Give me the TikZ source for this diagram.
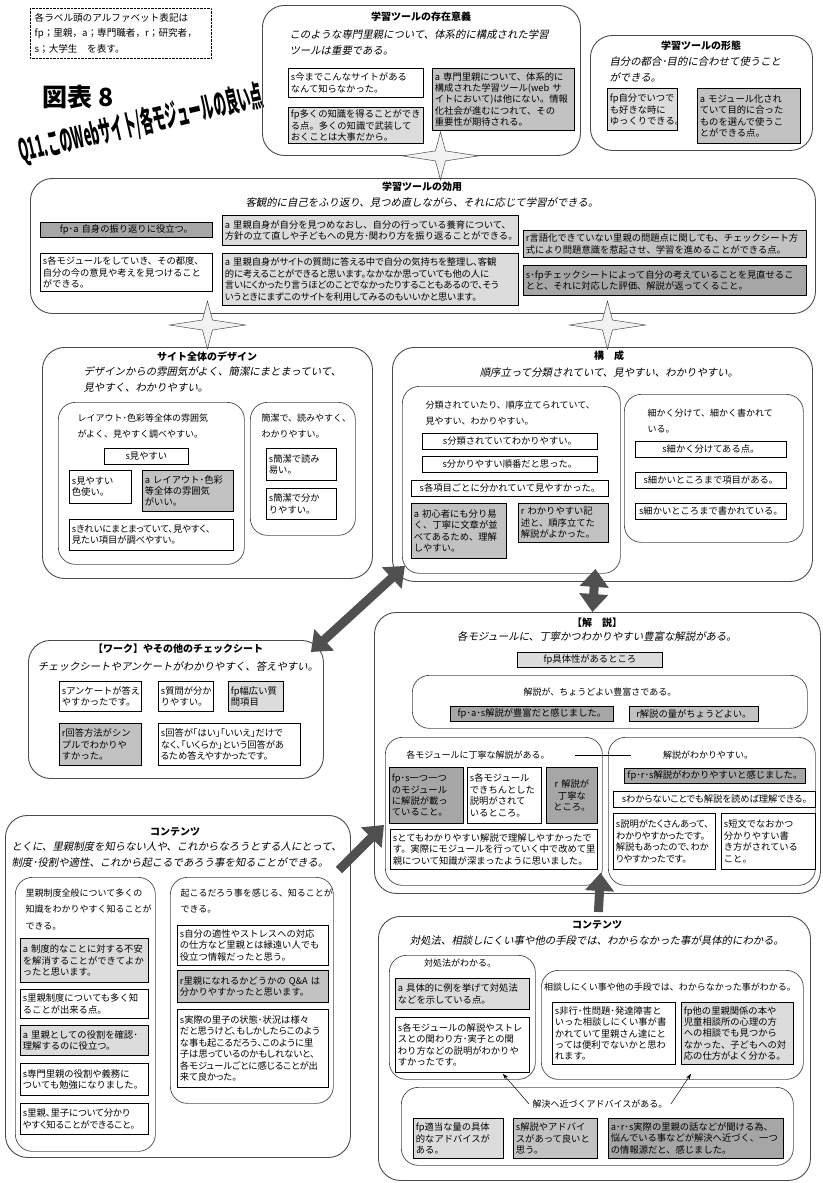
\documentclass[tikz,border=0pt]{standalone}
\usepackage{fontspec}
\setmainfont{Noto Sans CJK JP}
\newfontfamily\pfont{Noto Sans CJK JP}[RawFeature=+palt]
\newfontfamily\leadfont{Noto Sans CJK JP}[FakeSlant=0.2]
\newfontfamily\narrowfont{Noto Sans CJK JP}[FakeStretch=0.42]
\usepackage{tikz}
\usetikzlibrary{positioning, arrows.meta, calc}

\definecolor{lightfill}{HTML}{DCDCDC}
\definecolor{midfill}{HTML}{C2C2C2}
\definecolor{darkfill}{HTML}{A6A6A6}
\definecolor{framegray}{HTML}{4A4A4A}
\definecolor{arrowgray}{HTML}{505050}
\definecolor{starfill}{HTML}{F2F2F2}

\newcommand{\boxfont}{\fontsize{9.3}{11.4}\selectfont}
\newcommand{\linkstar}[1]{\filldraw[starlink] (#1) ++(0,-24) -- ++(5,19) -- ++(33,5) -- ++(-33,5) -- ++(-5,19) -- ++(-5,-19) -- ++(-33,-5) -- ++(33,-5) -- cycle;}

\tikzstyle{wbox} = [draw, fill=white, line width=0.8pt, anchor=north west, align=left, inner sep=2.5pt, font=\boxfont]
\tikzstyle{lbox} = [wbox, fill=lightfill]
\tikzstyle{mbox} = [wbox, fill=midfill]
\tikzstyle{dbox} = [wbox, fill=darkfill]
\tikzstyle{prop} = [font=\pfont\boxfont]
\tikzstyle{group} = [draw=framegray, line width=0.9pt, rounded corners=22pt, anchor=north west]
\tikzstyle{subgroup} = [group, rounded corners=17pt, line width=0.7pt]
\tikzstyle{head} = [font=\bfseries\fontsize{10}{12}\selectfont]
\tikzstyle{lead} = [font=\leadfont\fontsize{10.4}{16}\selectfont, align=left]
\tikzstyle{note} = [font=\fontsize{9}{16.5}\selectfont, align=left]
\tikzstyle{legendbox} = [draw, densely dotted, anchor=north west, minimum width=181pt, minimum height=50pt, text width=172pt, align=left, font=\fontsize{9.6}{15.5}\selectfont]
\tikzstyle{fat} = [draw=arrowgray, line width=9pt, -{Triangle[length=18pt,width=28pt]}]
\tikzstyle{fatboth} = [draw=arrowgray, line width=9pt, {Triangle[length=18pt,width=28pt]}-{Triangle[length=18pt,width=28pt]}]
\tikzstyle{pointer} = [line width=0.5pt, -{Stealth[length=6pt,width=4pt]}]
\tikzstyle{starlink} = [draw=framegray, fill=starfill, line width=0.5pt]

\begin{document}
\begin{tikzpicture}[x=1pt, y=-1pt]
\useasboundingbox (0,0) rectangle (822,1183);
\fill[white] (0,0) rectangle (822,1183);

% Legend and title
\node[legendbox] (legend) at (30,8) {各ラベル頭のアルファベット表記は\\fp；里親，a；専門職者，r；研究者，\\s；大学生\quad を表す。};
\node[font=\bfseries\fontsize{25}{25}\selectfont] (fignum) at (78,97) {図表 8};
\node[rotate=13, font=\narrowfont\bfseries\fontsize{30}{30}\selectfont] (question) at (141,124) {Q11.このWebサイト/各モジュールの良い点};

% Groups
\node[group, minimum width=318pt, minimum height=150pt] (exist) at (262,5) {};
\node[group, minimum width=222pt, minimum height=115pt] (form) at (590,35) {};
\node[group, minimum width=785pt, minimum height=135pt] (effect) at (30,178) {};
\node[group, minimum width=330pt, minimum height=231pt] (design) at (42,347) {};
\node[subgroup, minimum width=186pt, minimum height=162pt] (dL) at (58,402) {};
\node[subgroup, minimum width=105pt, minimum height=133pt] (dR) at (250,402) {};
\node[group, minimum width=420pt, minimum height=234pt] (kosei) at (392,347) {};
\node[subgroup, minimum width=218pt, minimum height=187pt] (kL) at (402,386) {};
\node[subgroup, minimum width=179pt, minimum height=148pt] (kR) at (624,394) {};
\node[group, minimum width=295pt, minimum height=138pt] (work) at (28,640) {};
\node[group, minimum width=446pt, minimum height=281pt] (kaisetsu) at (374,612) {};
\node[subgroup, minimum width=395pt, minimum height=53pt] (xA) at (412,675) {};
\node[subgroup, minimum width=217pt, minimum height=148pt] (xL) at (385,737) {};
\node[subgroup, minimum width=207pt, minimum height=148pt] (xR) at (608,737) {};
\node[group, minimum width=345pt, minimum height=342pt] (contL) at (5,815) {};
\node[subgroup, minimum width=140pt, minimum height=274pt] (cA) at (15,877) {};
\node[subgroup, minimum width=163pt, minimum height=226pt] (cB) at (170,877) {};
\node[group, minimum width=432pt, minimum height=264pt] (contR) at (378,916) {};
\node[subgroup, minimum width=146pt, minimum height=124pt] (dA) at (389,955) {};
\node[subgroup, minimum width=262pt, minimum height=109pt] (dB) at (541,970) {};
\node[subgroup, minimum width=392pt, minimum height=78pt] (dC) at (401,1087) {};

% Headings
\node[head] (existT) at (421,17) {学習ツールの存在意義};
\node[lead, anchor=north west] (existL) at (286,26) {このような専門里親について、体系的に構成された学習\\ツールは重要である。};
\node[head] (formT) at (701,46) {学習ツールの形態};
\node[lead, anchor=north west] (formL) at (606,53) {自分の都合･目的に合わせて使うこと\\ができる。};
\node[head] (effectT) at (422,187) {学習ツールの効用};
\node[lead] (effectL) at (422,203) {客観的に自己をふり返り、見つめ直しながら、それに応じて学習ができる。};
\node[head] (designT) at (207,357) {サイト全体のデザイン};
\node[lead, anchor=north west] (designL) at (80,363) {デザインからの雰囲気がよく、簡潔にまとまっていて、\\見やすく、わかりやすい。};
\node[head] (koseiT) at (609,356) {構\quad 成};
\node[lead] (koseiL) at (609,373) {順序立って分類されていて、見やすい、わかりやすい。};
\node[head] (workT) at (178,649) {【ワーク】やその他のチェックシート};
\node[lead] (workL) at (178,666) {チェックシートやアンケートがわかりやすく、答えやすい。};
\node[head] (kaisetsuT) at (597,623) {【解\quad 説】};
\node[lead] (kaisetsuL) at (597,637) {各モジュールに、丁寧かつわかりやすい豊富な解説がある。};
\node[head] (contLT) at (175,832) {コンテンツ};
\node[lead, anchor=north west] (contLL) at (8,838) {とくに、里親制度を知らない人や、これからなろうとする人にとって、\\制度･役割や適性、これから起こるであろう事を知ることができる。};
\node[head] (contRT) at (597,925) {コンテンツ};
\node[lead] (contRL) at (597,941) {対処法、相談しにくい事や他の手段では、わからなかった事が具体的にわかる。};

% Sub headings
\node[note, anchor=north west] (dLt) at (74,410) {レイアウト･色彩等全体の雰囲気\\がよく、見やすく調べやすい。};
\node[note, anchor=north west] (dRt) at (258,410) {簡潔で、読みやすく、\\わかりやすい。};
\node[note, anchor=north west] (kLt) at (422,397) {分類されていたり、順序立てられていて、\\見やすい、わかりやすい。};
\node[note, anchor=north west] (kRt) at (644,405) {細かく分けて、細かく書かれて\\いる。};
\node[note] (xAt) at (600,692) {解説が、ちょうどよい豊富さである。};
\node[note] (xLh) at (478,755) {各モジュールに丁寧な解説がある。};
\node[note] (xRh) at (708,755) {解説がわかりやすい。};
\node[note, anchor=north west] (cAt) at (22,885) {里親制度全般について多くの\\知識をわかりやすく知ることが\\できる。};
\node[note, anchor=north west] (cBt) at (177,885) {起こるだろう事を感じる、知ることが\\できる。};
\node[note] (dAh) at (460,963) {対処法がわかる。};
\node[note] (dBh) at (670,987) {相談しにくい事や他の手段では、わからなかった事がわかる。};
\node[note] (dCh) at (600,1104) {解決へ近づくアドバイスがある。};

% Boxes: existence
\node[wbox, text width=130pt, minimum height=29pt] (e1) at (288,68) {s今までこんなサイトがある\\なんて知らなかった。};
\node[lbox, text width=130pt, minimum height=36pt] (e2) at (288,107) {fp多くの知識を得ることができ\\る点。多くの知識で武装して\\おくことは大事だから。};
\node[mbox, text width=137pt, minimum height=62pt] (e3) at (432,68) {a 専門里親について、体系的に\\構成された学習ツール(web サ\\イトにおいて)は他にない。情報\\化社会が進むにつれて、その\\重要性が期待される。};

% Boxes: form
\node[lbox, text width=65pt, minimum height=42pt] (f1) at (607,88) {fp自分でいつで\\も好きな時に\\ゆっくりできる。};
\node[mbox, text width=98pt, minimum height=55pt] (f2) at (697,88) {a モジュール化され\\ていて目的に合った\\ものを選んで使うこ\\とができる点。};

% Boxes: effect
\node[dbox, text width=167pt, minimum height=15pt, align=center] (c1) at (40,222) {fp･a 自身の振り返りに役立つ。};
\node[lbox, text width=291pt, minimum height=30pt] (c2) at (222,215) {a 里親自身が自分を見つめなおし、自分の行っている養育について、\\方針の立て直しや子どもへの見方･関わり方を振り返ることができる。};
\node[wbox, text width=167pt, minimum height=38pt] (c3) at (40,253) {s各モジュールをしていき、その都度、\\自分の今の意見や考えを見つけること\\ができる。};
\node[lbox, prop, text width=291pt, minimum height=52pt] (c4) at (222,253) {a 里親自身がサイトの質問に答える中で自分の気持ちを整理し、客観\\的に考えることができると思います。なかなか思っていても他の人に\\言いにくかったり言うほどのことでなかったりすることもあるので、そう\\いうときにまずこのサイトを利用してみるのもいいかと思います。};
\node[mbox, text width=278pt, minimum height=27pt] (c5) at (523,230) {r言語化できていない里親の問題点に関しても、チェックシート方\\式により問題意識を惹起させ、学習を進めることができる点。};
\node[dbox, text width=278pt, minimum height=30pt] (c6) at (523,265) {s･fpチェックシートによって自分の考えていることを見直せるこ\\とと、それに対応した評価、解説が返ってくること。};

% Boxes: design
\node[wbox, text width=79pt, minimum height=16pt, align=center] (d1) at (104,448) {s見やすい};
\node[wbox, text width=57pt, minimum height=33pt] (d2) at (69,470) {s見やすい\\色使い。};
\node[mbox, text width=86pt, minimum height=41pt] (d3) at (142,470) {a レイアウト･色彩\\等全体の雰囲気\\がいい。};
\node[wbox, prop, text width=159pt, minimum height=31pt] (d4) at (69,519) {sきれいにまとまっていて、見やすく、\\見たい項目が調べやすい。};
\node[wbox, text width=65pt, minimum height=32pt] (d5) at (266,448) {s簡潔で読み\\易い。};
\node[wbox, text width=65pt, minimum height=31pt] (d6) at (266,488) {s簡潔で分か\\りやすい。};

% Boxes: composition
\node[wbox, text width=170pt, minimum height=16pt, align=center] (k1) at (422,433) {s分類されていてわかりやすい。};
\node[wbox, text width=170pt, minimum height=16pt, align=center] (k2) at (422,456) {s分かりやすい順番だと思った。};
\node[wbox, text width=192pt, minimum height=16pt, align=center] (k3) at (411,480) {s各項目ごとに分かれていて見やすかった。};
\node[mbox, text width=90pt, minimum height=55pt] (k4) at (411,503) {a 初心者にも分り易\\く、丁寧に文章が並\\べてあるため、理解\\しやすい。};
\node[mbox, text width=85pt, minimum height=39pt] (k5) at (518,503) {r わかりやすい記\\述と、順序立てた\\解説がよかった。};
\node[wbox, text width=146pt, minimum height=16pt, align=center] (k6) at (635,441) {s細かく分けてある点。};
\node[wbox, text width=146pt, minimum height=16pt, align=center] (k7) at (635,472) {s細かいところまで項目がある。};
\node[wbox, text width=146pt, minimum height=16pt, align=center] (k8) at (635,503) {s細かいところまで書かれている。};

% Boxes: work
\node[wbox, text width=77pt, minimum height=30pt] (w1) at (59,681) {sアンケートが答え\\やすかったです。};
\node[wbox, text width=50pt, minimum height=30pt] (w2) at (158,681) {s質問が分か\\りやすい。};
\node[lbox, text width=50pt, minimum height=30pt] (w3) at (228,681) {fp幅広い質\\問項目};
\node[mbox, text width=77pt, minimum height=42pt] (w4) at (59,723) {r回答方法がシン\\プルでわかりや\\すかった。};
\node[wbox, prop, text width=137pt, minimum height=42pt] (w5) at (158,723) {s回答が「はい」「いいえ」だけで\\なく、「いくらか」という回答があ\\るため答えやすかったです。};

% Boxes: commentary
\node[lbox, text width=140pt, minimum height=15pt, align=center] (x1) at (517,652) {fp具体性があるところ};
\node[dbox, text width=158pt, minimum height=15pt, align=center] (x2) at (450,706) {fp･a･s解説が豊富だと感じました。};
\node[mbox, text width=124pt, minimum height=15pt, align=center] (x3) at (629,706) {r解説の量がちょうどよい。};
\node[dbox, text width=69pt, minimum height=56pt] (x4) at (389,767) {fp･s一つ一つ\\のモジュール\\に解説が載っ\\ていること。};
\node[wbox, text width=69pt, minimum height=56pt] (x5) at (467,767) {s各モジュール\\できちんとした\\説明がされて\\いるところ。};
\node[dbox, text width=46pt, minimum height=56pt, align=center] (x6) at (546,767) {r 解説が\\丁寧な\\ところ。};
\node[wbox, text width=202pt, minimum height=40pt] (x7) at (390,829) {sとてもわかりやすい解説で理解しやすかったで\\す。実際にモジュールを行っていく中で改めて里\\親について知識が深まったように思いました。};
\node[dbox, text width=176pt, minimum height=15pt, align=center] (x8) at (624,768) {fp･r･s解説がわかりやすいと感じました。};
\node[wbox, prop, text width=197pt, minimum height=16pt, align=center] (x9) at (613,791) {sわからないことでも解説を読めば理解できる。};
\node[wbox, prop, text width=97pt, minimum height=56pt] (x10) at (613,813) {s説明がたくさんあって、\\わかりやすかったです。\\解説もあったので、わか\\りやすかったです。};
\node[wbox, text width=89pt, minimum height=56pt] (x11) at (721,813) {s短文でなおかつ\\分かりやすい書\\き方がされている\\こと。};

% Boxes: contents (left)
\node[lbox, text width=123pt, minimum height=44pt] (t1) at (20,938) {a 制度的なことに対する不安\\を解消することができてよか\\ったと思います。};
\node[wbox, text width=123pt, minimum height=29pt] (t2) at (20,989) {s里親制度についても多く知\\ることが出来る点。};
\node[lbox, text width=123pt, minimum height=30pt] (t3) at (20,1025) {a 里親としての役割を確認･\\理解するのに役立つ。};
\node[wbox, text width=123pt, minimum height=32pt] (t4) at (20,1063) {s専門里親の役割や義務に\\ついても勉強になりました。};
\node[wbox, prop, text width=123pt, minimum height=31pt] (t5) at (20,1103) {s里親、里子について分かり\\やすく知ることができること。};
\node[wbox, text width=146pt, minimum height=40pt] (t6) at (177,925) {s自分の適性やストレスへの対応\\の仕方など里親とは縁遠い人でも\\役立つ情報だったと思う。};
\node[mbox, text width=146pt, minimum height=32pt] (t7) at (177,970) {r里親になれるかどうかの Q\&A は\\分かりやすかったと思います。};
\node[wbox, prop, text width=146pt, minimum height=78pt] (t8) at (177,1009) {s実際の里子の状態･状況は様々\\だと思うけど、もしかしたらこのよう\\な事も起こるだろう、このように里\\子は思っているのかもしれないと、\\各モジュールごとに感じることが出\\来て良かった。};

% Boxes: contents (right)
\node[lbox, text width=129pt, minimum height=31pt] (u1) at (395,978) {a 具体的に例を挙げて対処法\\などを示している点。};
\node[wbox, text width=129pt, minimum height=55pt] (u2) at (395,1017) {s各モジュールの解説やストレ\\スとの関わり方･実子との関\\わり方などの説明がわかりや\\すかったです。};
\node[wbox, text width=118pt, minimum height=62pt] (u3) at (552,1002) {s非行･性問題･発達障害と\\いった相談しにくい事が書\\かれていて里親さん達にと\\っては便利でないかと思わ\\れます。};
\node[lbox, text width=107pt, minimum height=62pt] (u4) at (681,1002) {fp他の里親関係の本や\\児童相談所の心理の方\\への相談でも見つから\\なかった、子どもへの対\\応の仕方がよく分かる。};
\node[lbox, text width=85pt, minimum height=40pt] (u5) at (413,1118) {fp適当な量の具体\\的なアドバイスが\\ある。};
\node[mbox, text width=79pt, minimum height=40pt] (u6) at (513,1118) {s解説やアドバイ\\スがあって良いと\\思う。};
\node[dbox, text width=170pt, minimum height=40pt] (u7) at (608,1118) {a･r･s実際の里親の話などが聞ける為、\\悩んでいる事などが解決へ近づく、一つ\\の情報源だと、感じました。};

% Connections
\linkstar{$(exist.south)+(19,0)$}
\linkstar{$(design.north)+(0,-22)$}
\linkstar{$(kosei.north)+(5,-22)$}

\draw[fatboth] ([shift={(-13,12)}]work.north east) -- ([shift={(13,-16)}]kosei.south west);
\draw[fatboth] ([shift={(-7,-13)}]kosei.south) -- ([shift={(-5,0)}]kaisetsu.north);
\draw[fat] ([shift={(-12,55)}]contL.north east) -- ([shift={(10,72)}]kaisetsu.west);
\draw[fat] ([shift={(4,-4)}]contR.north) -- ([shift={(3,-21)}]kaisetsu.south);

\draw[line width=0.6pt, shorten <=22pt, shorten >=28pt] (xLh) -- (xRh);
\draw[pointer] (dCh.west) -- ([shift={(-27,1)}]u2.south east);
\draw[pointer] (dCh.east) -- ([shift={(10,9)}]u4.south west);
\end{tikzpicture}
\end{document}
